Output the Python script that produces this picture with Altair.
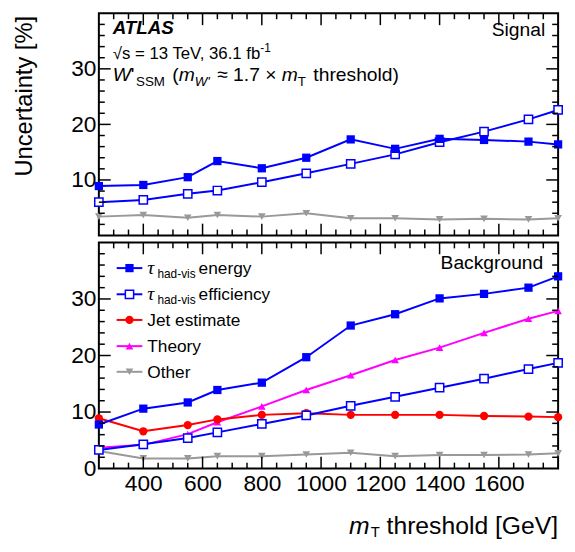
import altair as alt
import pandas as pd

# ---------------- data ----------------
mt = [250, 400, 550, 650, 800, 950, 1100, 1250, 1400, 1550, 1700, 1800]

sig_energy = [8.9, 9.1, 10.5, 13.4, 12.1, 14.0, 17.3, 15.6, 17.4, 17.2, 16.9, 16.4]
sig_eff = [6.0, 6.4, 7.5, 8.1, 9.6, 11.2, 12.9, 14.6, 16.8, 18.7, 20.9, 22.6]
sig_other = [3.4, 3.7, 3.2, 3.7, 3.4, 4.0, 3.1, 3.1, 2.9, 3.0, 2.9, 3.1]

bkg_energy = [7.8, 10.6, 11.7, 13.9, 15.2, 19.7, 25.3, 27.3, 30.1, 30.9, 32.0, 34.0]
bkg_eff = [3.3, 4.3, 5.4, 6.4, 7.9, 9.4, 11.1, 12.7, 14.3, 15.9, 17.6, 18.7]
bkg_jet = [8.9, 6.6, 7.7, 8.7, 9.5, 9.8, 9.5, 9.5, 9.5, 9.3, 9.2, 9.1]
bkg_theory = [3.7, 4.2, 6.1, 8.2, 11.0, 13.9, 16.5, 19.2, 21.4, 24.0, 26.5, 27.9]
bkg_other = [3.1, 1.8, 1.8, 2.2, 2.2, 2.5, 2.8, 2.2, 2.4, 2.4, 2.5, 2.7]

x_tick_labels = [400, 600, 800, 1000, 1200, 1400, 1600]

# ---------------- style ----------------
FONT = "Liberation Sans"
SERIF = "Liberation Serif"
BLUE = "#0000ff"
RED = "#ff0000"
MAG = "#ff00ff"
GRAY = "#999999"
W = 465
H_TOP = 225
H_BOT = 229

X_SCALE = alt.Scale(domain=[250, 1800], nice=False, zero=False)
Y_SCALE = alt.Scale(domain=[0, 40], nice=False, zero=False)
DUMMY = pd.DataFrame({"a": [0]})

# Arial / Liberation Sans advance widths (per 1000 em)
_W = {" ": 278, "!": 278, "(": 333, ")": 333, ",": 278, "-": 333, ".": 278, "=": 584,
      "[": 278, "]": 278, "'": 191, "%": 889, "×": 584, "≈": 549, "√": 549, "τ": 440}
for _d in "0123456789":
    _W[_d] = 556
_W.update(dict(A=667, B=667, C=722, D=722, E=667, F=611, G=778, H=722, I=278, J=500, K=667,
               L=556, M=833, N=722, O=778, P=667, Q=778, R=722, S=667, T=611, U=722, V=667,
               W=944, X=667, Y=667, Z=611))
_W.update(dict(a=556, b=556, c=500, d=556, e=556, f=278, g=556, h=556, i=222, j=222, k=500,
               l=222, m=833, n=556, o=556, p=556, q=556, r=333, s=500, t=278, u=556, v=500,
               w=722, x=500, y=500, z=500))


def tw(s, size):
    return sum(_W.get(c, 556) for c in s) / 1000.0 * size


def txt(s, x, y, size, style="normal", weight="normal", align="left",
        baseline="alphabetic", font=FONT, angle=0):
    return alt.Chart(DUMMY).mark_text(
        text=s, fontSize=size, fontStyle=style, fontWeight=weight, align=align,
        baseline=baseline, font=font, angle=angle, color="black"
    ).encode(x=alt.value(x), y=alt.value(y))


def run(pieces, x0, y0):
    """pieces: (text, size, style, dy, gap_before, font); no leading/trailing spaces"""
    out = []
    x = x0
    for s, size, style, dy, gap, font in pieces:
        x += gap
        out.append(txt(s, x, y0 + dy, size, style=style, font=font))
        x += tw(s, size)
    return out


def series(vals, color, shape, xa, ya, open_marker=False, size=70):
    df = pd.DataFrame({"x": mt, "y": vals})
    base = alt.Chart(df)
    enc = dict(x=alt.X("x:Q", scale=X_SCALE, axis=xa),
               y=alt.Y("y:Q", scale=Y_SCALE, axis=ya))
    line = base.mark_line(color=color, strokeWidth=2).encode(**enc)
    if open_marker:
        pts = base.mark_point(shape=shape, filled=True, fill="white", stroke=color,
                              strokeWidth=1.5, size=size, opacity=1)
    else:
        pts = base.mark_point(shape=shape, filled=True, color=color, size=size, opacity=1)
    return [line, pts.encode(**enc)]


def ticks(h, xa, ya):
    xmaj = pd.DataFrame({"x": list(range(400, 1800, 200))})
    xmin = pd.DataFrame({"x": [v for v in range(300, 1800, 50) if v % 200 != 0]})
    ymaj = pd.DataFrame({"y": [10, 20, 30]})
    ymin = pd.DataFrame({"y": [v for v in range(2, 40, 2) if v % 10 != 0]})
    out = []
    for df, L in [(xmaj, 12), (xmin, 6)]:
        xe = alt.X("x:Q", scale=X_SCALE, axis=xa)
        out.append(alt.Chart(df).mark_rule(color="black", strokeWidth=1.5).encode(
            x=xe, y=alt.value(h), y2=alt.value(h - L)))
        out.append(alt.Chart(df).mark_rule(color="black", strokeWidth=1.5).encode(
            x=xe, y=alt.value(0), y2=alt.value(L)))
    for df, L in [(ymaj, 12), (ymin, 6)]:
        ye = alt.Y("y:Q", scale=Y_SCALE, axis=ya)
        out.append(alt.Chart(df).mark_rule(color="black", strokeWidth=1.5).encode(
            y=ye, x=alt.value(0), x2=alt.value(L)))
        out.append(alt.Chart(df).mark_rule(color="black", strokeWidth=1.5).encode(
            y=ye, x=alt.value(W), x2=alt.value(W - L)))
    return out


def y_axis(values):
    return alt.Axis(values=values, title=None, ticks=False, tickSize=0, domain=False,
                    grid=False, labelFontSize=23, labelFont=FONT, labelColor="black",
                    labelPadding=3, format="d", labelFlush=False)


# ---------------- top panel (signal) ----------------
ya_top = y_axis([10, 20, 30])
top_layers = []
top_layers += series(sig_other, GRAY, "triangle-down", None, ya_top, size=60)
top_layers += series(sig_eff, BLUE, "square", None, ya_top, open_marker=True)
top_layers += series(sig_energy, BLUE, "square", None, ya_top)
top_layers += ticks(H_TOP, None, ya_top)

top_layers.append(txt("ATLAS", 14, 21, 19, style="italic", weight="bold"))
l2 = "√s = 13 TeV, 36.1 fb"
top_layers.append(txt(l2, 14, 46, 17))
top_layers.append(txt("-1", 14 + tw(l2, 17) - 4, 39, 12))

B, S = 19.5, 13.5
SP = tw(" ", B)
top_layers += run([
    ("W", B, "italic", 0, 0, FONT),
    ("'", B, "normal", 0, 0, FONT),
    ("SSM", S, "normal", 5, 1.5, FONT),
    ("(", B, "normal", 0, 2 + SP, FONT),
    ("m", B, "italic", 0, 0, FONT),
    ("W'", S, "italic", 5, 0, FONT),
    ("≈", B, "normal", 0, 2 + SP, FONT),
    ("1.7", B, "normal", 0, SP, FONT),
    ("×", B, "normal", 0, SP, FONT),
    ("m", B, "italic", 0, SP, FONT),
    ("T", S, "normal", 5, 0, FONT),
    ("threshold)", B, "normal", 0, 2 + SP, FONT),
], 14, 69)
top_layers.append(txt("Signal", 452, 23, 19.5, align="right"))
top_layers.append(txt("Uncertainty [%]", -68, 84, 24, align="center", angle=270))

top = alt.layer(*top_layers).properties(width=W, height=H_TOP)

# ---------------- bottom panel (background) ----------------
xa_bot = alt.Axis(values=x_tick_labels, title=None, ticks=False, tickSize=0, domain=False,
                  grid=False, labelFontSize=23, labelFont=FONT, labelColor="black",
                  labelPadding=4, format="d", labelFlush=False)
ya_bot = y_axis([0, 10, 20, 30])

bot_layers = []
bot_layers += series(bkg_other, GRAY, "triangle-down", xa_bot, ya_bot, size=60)
bot_layers += series(bkg_theory, MAG, "triangle-up", xa_bot, ya_bot, size=60)
bot_layers += series(bkg_jet, RED, "circle", xa_bot, ya_bot, size=70)
bot_layers += series(bkg_eff, BLUE, "square", xa_bot, ya_bot, open_marker=True)
bot_layers += series(bkg_energy, BLUE, "square", xa_bot, ya_bot)
bot_layers += ticks(H_BOT, xa_bot, ya_bot)

# legend
LF = 17.5
legend_rows = [
    (26, BLUE, "square", False, [("τ", 20, "italic", 0, 0, SERIF), ("had-vis", 12, "normal", 4, 1.5, FONT), ("energy", LF, "normal", 0, 3, FONT)]),
    (52.5, BLUE, "square", True, [("τ", 20, "italic", 0, 0, SERIF), ("had-vis", 12, "normal", 4, 1.5, FONT), ("efficiency", LF, "normal", 0, 3, FONT)]),
    (78.5, RED, "circle", False, [("Jet estimate", LF, "normal", 0, 0, FONT)]),
    (105, MAG, "triangle-up", False, [("Theory", LF, "normal", 0, 0, FONT)]),
    (131, GRAY, "triangle-down", False, [("Other", LF, "normal", 0, 0, FONT)]),
]
for yc, col, shp, opn, pieces in legend_rows:
    bot_layers.append(alt.Chart(DUMMY).mark_rule(color=col, strokeWidth=2).encode(
        x=alt.value(18), x2=alt.value(44), y=alt.value(yc)))
    if opn:
        mk = alt.Chart(DUMMY).mark_point(shape=shp, filled=True, fill="white", stroke=col,
                                         strokeWidth=1.5, size=70, opacity=1)
    else:
        mk = alt.Chart(DUMMY).mark_point(shape=shp, filled=True, color=col,
                                         size=60 if "triangle" in shp else 70, opacity=1)
    bot_layers.append(mk.encode(x=alt.value(31), y=alt.value(yc)))
    bot_layers += run(pieces, 49, yc + 6)

bot_layers.append(txt("Background", 450, 27, 19.5, align="right"))

# x title: m_T threshold [GeV], right aligned at panel edge
xt_main = "threshold [GeV]"
xt_y = 295
x_end = W
bot_layers.append(txt(xt_main, x_end, xt_y, 25, align="right"))
x_t = x_end - tw(xt_main, 25) - tw(" ", 25)
bot_layers.append(txt("T", x_t, xt_y + 3, 15, align="right"))
x_m = x_t - tw("T", 15) - 1
bot_layers.append(txt("m", x_m, xt_y, 25, style="italic", align="right"))

bottom = alt.layer(*bot_layers).properties(width=W, height=H_BOT)

chart = alt.vconcat(top, bottom, spacing=3,
                    padding={"left": 4, "top": 0, "right": 0, "bottom": 0}
                    ).configure_view(stroke="black", strokeWidth=2)

chart.save("out.html", embed_options={"renderer": "svg", "actions": False})
